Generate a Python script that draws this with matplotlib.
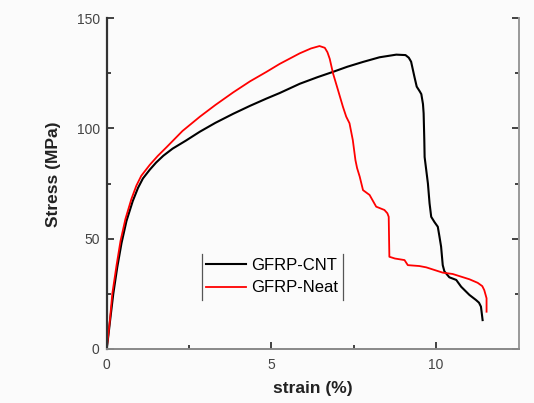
import matplotlib
matplotlib.use("Agg")
import matplotlib.pyplot as plt
from matplotlib.lines import Line2D

plt.rcParams['font.family'] = ['Liberation Sans', 'DejaVu Sans']

# GFRP-CNT curve (strain %, stress MPa)
cnt_strain = [0, 0.05, 0.1, 0.2, 0.32, 0.45, 0.6, 0.79, 0.95, 1.1, 1.31, 1.5, 1.72, 2.0, 2.4, 2.83, 3.3, 3.84,
              4.35, 4.85, 5.25, 5.86, 6.4, 6.87, 7.3, 7.78, 8.28, 8.79, 9.07, 9.17, 9.24, 9.34, 9.41,
              9.5, 9.55, 9.6, 9.62, 9.64, 9.65, 9.7, 9.75, 9.8, 9.85, 9.95, 10.05, 10.1, 10.15, 10.2,
              10.25, 10.4, 10.61, 10.76, 11.01, 11.21, 11.3, 11.36, 11.41]
cnt_stress = [0, 6, 12.5, 25, 37, 48, 58, 67, 73, 77.3, 81.3, 84.5, 87.6, 90.8, 94.4, 98.5, 102.5, 106.6,
              110.2, 113.5, 116, 120.2, 123.2, 125.6, 127.9, 130.1, 132.2, 133.4, 133.2, 132, 130.2, 123.4, 118.9,
              116.8, 115.5, 111, 106.8, 95, 87, 81, 75, 66, 59.9, 57.5, 55.4, 51, 46.4, 38,
              35.2, 32.5, 31.3, 28.2, 24.5, 22.2, 21, 19.2, 13.1]

# GFRP-Neat curve (strain %, stress MPa)
neat_strain = [0, 0.05, 0.1, 0.17, 0.3, 0.42, 0.57, 0.75, 0.9, 1.05, 1.31, 1.55, 1.82, 2.3, 2.83, 3.3, 3.84,
               4.35, 4.85, 5.25, 5.86, 6.2, 6.46, 6.62, 6.7, 6.77, 6.87, 7.02, 7.17, 7.27, 7.37, 7.47,
               7.55, 7.6, 7.68, 7.78, 7.98, 8.18, 8.43, 8.52, 8.56, 8.58, 8.75, 9.04, 9.14, 9.49, 9.7,
               10.2, 10.5, 11.01, 11.26, 11.4, 11.46, 11.53, 11.53]
neat_stress = [0, 6.5, 13.5, 25, 38, 49, 59, 68, 74, 78.5, 83.5, 87.5, 91.5, 98.8, 105.3, 110.6, 116.3,
               121.3, 125.6, 129.2, 134, 136.2, 137.3, 136.5, 134.5, 131.5, 124.9, 117.4, 109.8, 105.3, 102.3, 94.7,
               85.6, 82, 78.1, 72, 69.8, 64.5, 63, 61.5, 59.9, 41.8, 41, 40.3, 38, 37.6, 37,
               34.6, 34, 31.6, 30, 28.5, 26.7, 23, 16.9]

series_labels = ['GFRP-CNT', 'GFRP-Neat']
x_ticks = [0, 5, 10]
x_minor = [2.5, 7.5]
y_ticks = [0, 50, 100, 150]
y_minor = [25, 75, 125]

bg = '#fbfbfb'
fig = plt.figure(figsize=(5.34, 4.03), dpi=100, facecolor=bg)
ax = fig.add_axes([0.1998, 0.134, 0.7712, 0.8213], facecolor=bg)

ax.plot(cnt_strain, cnt_stress, color='black', lw=1.5, label=series_labels[0])
ax.plot(neat_strain, neat_stress, color='#ff0000', lw=1.3, label=series_labels[1])

ax.set_xlim(0, 12.5)
ax.set_ylim(0, 150)
ax.set_xticks(x_ticks)
ax.set_xticks(x_minor, minor=True)
ax.set_yticks(y_ticks)
ax.set_yticks(y_minor, minor=True)

ax.spines['top'].set_visible(False)
ax.spines['left'].set_color('#333333')
ax.spines['left'].set_linewidth(1.6)
ax.spines['bottom'].set_color('#888888')
ax.spines['bottom'].set_linewidth(1.4)
ax.spines['right'].set_color('#999999')
ax.spines['right'].set_linewidth(1.4)

ax.tick_params(which='both', direction='in', right=True, top=False, color='#222222', width=1.2,
               labelsize=10, labelcolor='#444444')
ax.tick_params(which='major', length=5)
ax.tick_params(which='minor', length=3)
ax.tick_params(axis='x', which='major', pad=6.5)
ax.tick_params(axis='y', which='major', pad=5)

ax.set_xlabel('strain (%)', fontsize=12.5, fontweight='bold', color='#222222', va='top')
ax.xaxis.set_label_coords(0.5, -0.098)
ax.set_ylabel('Stress (MPa)', fontsize=12.5, fontweight='bold', color='#222222')
ax.yaxis.set_label_coords(-0.112, 0.527)

leg = ax.legend(loc='upper left', bbox_to_anchor=(0.232, 0.288), frameon=False, fontsize=12,
                handlelength=2.35, handletextpad=0.35, borderpad=0.25, labelspacing=0.45,
                borderaxespad=0)

fig.canvas.draw()
bb = leg.get_window_extent().transformed(fig.transFigure.inverted())
for xx in (bb.x0, bb.x1):
    fig.add_artist(Line2D([xx, xx], [bb.y0, bb.y1], transform=fig.transFigure, color='#555555', lw=0.9))

fig.savefig('out.png', dpi=100, facecolor=bg)
